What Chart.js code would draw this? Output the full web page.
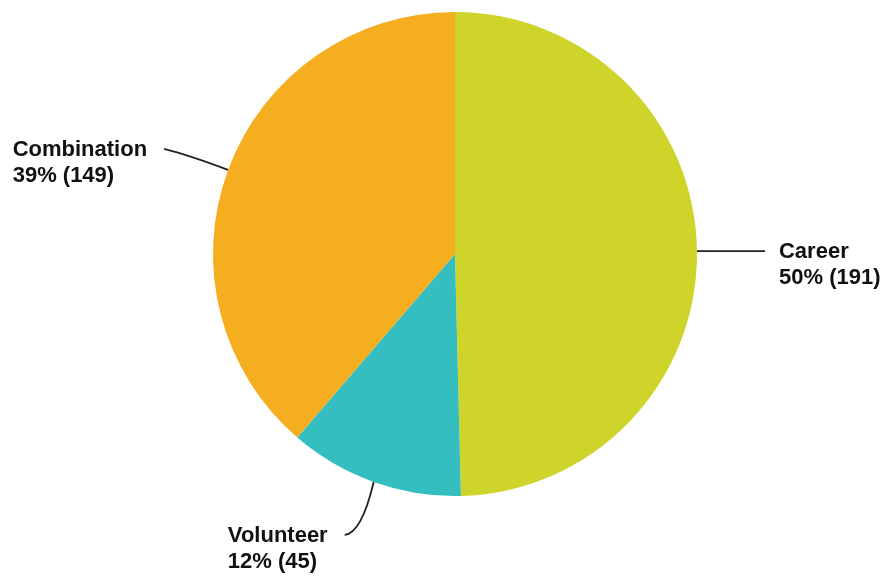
<!DOCTYPE html>
<html>
<head>
<meta charset="utf-8">
<script src="https://cdn.jsdelivr.net/npm/chart.js@4"></script>
<style>
  html, body { margin: 0; padding: 0; background: #fff; }
  canvas { display: block; }
</style>
</head>
<body>
<canvas id="myChart" width="888" height="577"></canvas>
<script>
var labels = ['Career', 'Volunteer', 'Combination'];
var counts = [191, 45, 149];
var colors = ['#CFD42A', '#35BEBF', '#F5AE20'];

var total = counts.reduce((a, b) => a + b, 0);

// leader line shape for each slice: control point and end point, relative to the slice edge
var leaders = [
   { cx: 30, cy: 0, ex: 68, ey: 0, side: 'right' },
   { cx: -12, cy: 51, ex: -29, ey: 53, side: 'left' },
   { cx: -40, cy: -15, ex: -64, ey: -21, side: 'left' }
];

const labelPlugin = {
   id: 'sliceLabels',
   afterDraw(chart) {
      const ctx = chart.ctx;
      const meta = chart.getDatasetMeta(0);
      ctx.save();
      ctx.font = 'bold 22px "Liberation Sans", Arial, sans-serif';
      ctx.textBaseline = 'alphabetic';
      ctx.textAlign = 'left';
      meta.data.forEach((arc, i) => {
         const p = arc.getProps(['x', 'y', 'startAngle', 'endAngle', 'outerRadius'], true);
         const mid = (p.startAngle + p.endAngle) / 2;
         const sx = p.x + Math.cos(mid) * p.outerRadius;
         const sy = p.y + Math.sin(mid) * p.outerRadius;
         const l = leaders[i];
         const ex = sx + l.ex, ey = sy + l.ey;

         ctx.strokeStyle = '#222';
         ctx.lineWidth = 1.8;
         ctx.beginPath();
         ctx.moveTo(sx, sy);
         ctx.quadraticCurveTo(sx + l.cx, sy + l.cy, ex, ey);
         ctx.stroke();

         const pct = Math.round(counts[i] / total * 100);
         const lines = [labels[i], pct + '% (' + counts[i] + ')'];
         const w = Math.max(...lines.map(t => ctx.measureText(t).width));
         const tx = l.side === 'right' ? ex + 14 : ex - 17 - w;
         ctx.fillStyle = '#111';
         ctx.fillText(lines[0], tx, ey + 7);
         ctx.fillText(lines[1], tx, ey + 33);
      });
      ctx.restore();
   }
};

var canva = document.getElementById('myChart');
var myChart = new Chart(canva, {
   type: 'pie',
   data: {
      labels: labels,
      datasets: [{
         data: counts,
         backgroundColor: colors,
         borderColor: colors,
         borderWidth: 0
      }]
   },
   options: {
      responsive: false,
      animation: false,
      layout: { padding: { top: 12, bottom: 81, left: 213, right: 191 } },
      plugins: {
         legend: { display: false },
         tooltip: { enabled: false }
      }
   },
   plugins: [labelPlugin]
});
</script>
</body>
</html>
